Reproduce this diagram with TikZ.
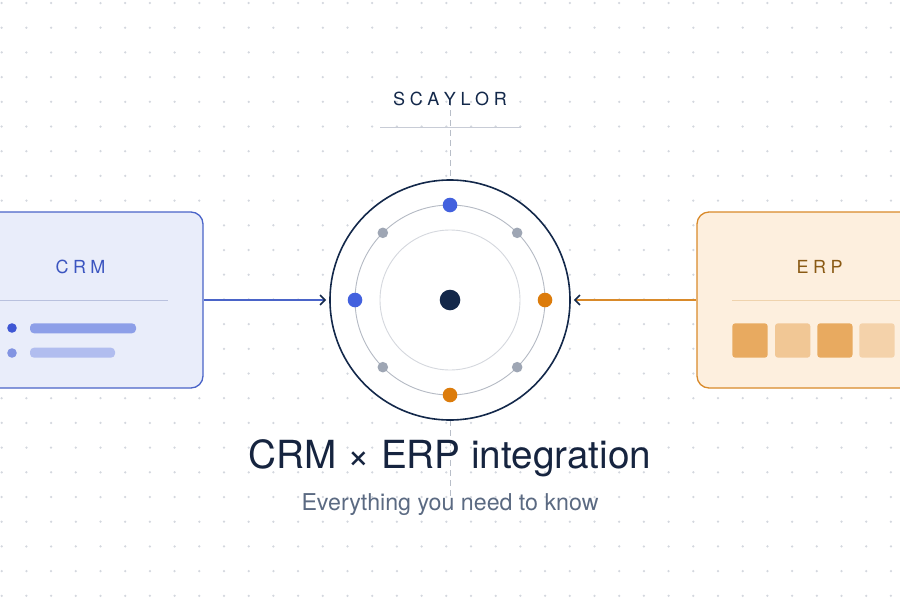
\documentclass[tikz,border=0pt]{standalone}
\usepackage{fontspec}
\setmainfont{TeX Gyre Heros}
\usetikzlibrary{arrows.meta,calc}
\definecolor{navy}{HTML}{13284A}
\definecolor{titlec}{HTML}{16243F}
\definecolor{subc}{HTML}{5B6A82}
\definecolor{dotc}{HTML}{D3D7DE}
\definecolor{crmfill}{HTML}{E9EDFA}
\definecolor{crmline}{HTML}{4A64C8}
\definecolor{crmtext}{HTML}{3B55C0}
\definecolor{crmsep}{HTML}{B9C1DE}
\definecolor{erpfill}{HTML}{FDEFDE}
\definecolor{erpline}{HTML}{D98A2A}
\definecolor{erptext}{HTML}{8A5A14}
\definecolor{erpsep}{HTML}{EFD3AD}
\definecolor{bluec}{HTML}{4361DE}
\definecolor{bulletA}{HTML}{3F57D4}
\definecolor{barA}{HTML}{8D9FE8}
\definecolor{bulletB}{HTML}{8294E2}
\definecolor{barB}{HTML}{B1BDEF}
\definecolor{tileA}{HTML}{E8AA60}
\definecolor{tileB}{HTML}{F1C795}
\definecolor{tileC}{HTML}{F4D2AA}
\definecolor{orangec}{HTML}{DC7C0C}
\definecolor{greyc}{HTML}{9EA6B4}
\definecolor{ringc}{HTML}{B5BAC4}
\definecolor{ringin}{HTML}{D5D8DE}
\definecolor{dashc}{HTML}{B8BEC8}
\definecolor{rulec}{HTML}{C8CCD6}
\tikzset{
  sysbox/.style={rectangle, rounded corners=12pt, line width=1.3pt, minimum width=248pt, minimum height=176pt, inner sep=0pt},
  hubc/.style={circle, draw=navy, fill=white, line width=1.6pt, minimum size=240pt, inner sep=0pt},
  flow/.style={line width=1.6pt, shorten >=3pt},
  tiptag/.style={font=\fontsize{18}{22}\selectfont, inner sep=0pt, anchor=center},
  bar/.style={rounded corners=4pt},
  tile/.style={rounded corners=3pt},
}
\begin{document}
\begin{tikzpicture}[x=1pt,y=-1pt]
\useasboundingbox (0,0) rectangle (900,600);
\clip (0,0) rectangle (900,600);
\fill[white] (0,0) rectangle (900,600);
% dot grid
\foreach \i in {0,...,36} {
  \foreach \j in {0,...,24} {
    \fill[dotc] ({1.7+24.7*\i},{3+24.7*\j}) circle[radius=1.25pt];
  }
}
% dashed axis
\coordinate (dtop) at (450,100);
\coordinate (dbot) at (450,497);
\draw[dashc, line width=1pt, dash pattern=on 6pt off 4pt] (dtop) -- (dbot);
% brand
\node[font=\fontsize{18}{22}\selectfont, text=navy, inner sep=0pt, anchor=center] (brand) at (450,99)
  {S\kern4.6pt C\kern4.6pt A\kern4.6pt Y\kern4.6pt L\kern4.6pt O\kern4.6pt R};
\coordinate (rl) at (380,127.3);
\coordinate (rr) at (521,127.3);
\draw[rulec, line width=1pt] (rl) -- (rr);
% boxes
\node[sysbox, draw=crmline, fill=crmfill] (crm) at (79,300) {};
\node[sysbox, draw=erpline, fill=erpfill] (erp) at (821,300) {};
\node[tiptag, text=crmtext] (crmlabel) at (80.5,266.5) {C\kern4.5pt R\kern4.5pt M};
\node[tiptag, text=erptext] (erplabel) at (819.5,266.5) {E\kern4.5pt R\kern4.5pt P};
\draw[crmsep, line width=1pt] (-10,300) -- (168,300);
\draw[erpsep, line width=1pt] (732,300) -- (910,300);
% CRM rows
\fill[bulletA] (12,328) circle[radius=4.8pt];
\fill[barA, bar] (30,323.3) rectangle (136,333.3);
\fill[bulletB] (12,353) circle[radius=4.8pt];
\fill[barB, bar] (30,347.7) rectangle (115,357.7);
% ERP tiles
\fill[tileA, tile] (732.3,323.3) rectangle (767.7,357.7);
\fill[tileB, tile] (775,323.3) rectangle (810.3,357.7);
\fill[tileA, tile] (817.3,323.3) rectangle (852.5,357.7);
\fill[tileC, tile] (859.3,323.3) rectangle (894.7,357.7);
% hub
\node[hubc] (hub) at (450,300) {};
\draw[ringc, line width=0.9pt] (hub.center) circle[radius=95pt];
\draw[ringin, line width=0.9pt] (hub.center) circle[radius=70pt];
\fill[bluec] ($(hub.center)+(0,-95)$) circle[radius=7.3pt];
\fill[bluec] ($(hub.center)+(-95,0)$) circle[radius=7.3pt];
\fill[orangec] ($(hub.center)+(95,0)$) circle[radius=7.3pt];
\fill[orangec] ($(hub.center)+(0,95)$) circle[radius=7.3pt];
\foreach \a in {45,135,225,315}
  \fill[greyc] ($(hub.center)+(\a:95pt)$) circle[radius=5.3pt];
\fill[navy] (hub.center) circle[radius=10.3pt];
% connectors
\draw[flow, crmline, -{Straight Barb[length=5pt,width=10pt,color=navy]}] (crm.east) -- (hub.west);
\draw[flow, erpline, -{Straight Barb[length=5pt,width=10pt,color=navy]}] (erp.west) -- (hub.east);
% titles
\node[font=\fontsize{38.7}{46}\selectfont, text=titlec, inner sep=0pt, anchor=base] (title) at (450,468) {CRM × ERP integration};
\node[font=\fontsize{23.2}{28}\selectfont, text=subc, inner sep=0pt, anchor=base] (subtitle) at (450,510) {Everything you need to know};
\end{tikzpicture}
\end{document}
